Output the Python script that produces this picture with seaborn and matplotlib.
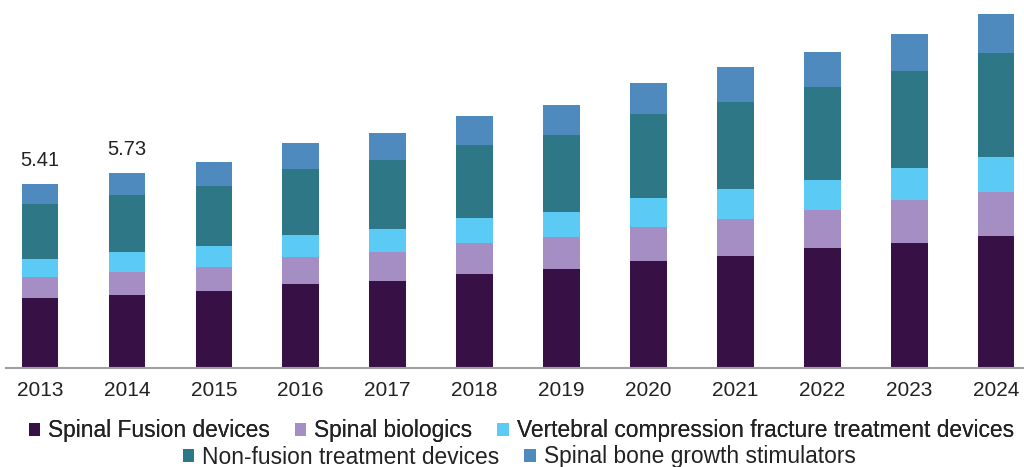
import numpy as np
import pandas as pd
import matplotlib
matplotlib.use("Agg")
import matplotlib.pyplot as plt
import seaborn as sns
from matplotlib.patches import Patch

years = ["2013", "2014", "2015", "2016", "2017", "2018", "2019", "2020", "2021", "2022", "2023", "2024"]
series_names = ["Spinal Fusion devices", "Spinal biologics",
                "Vertebral compression fracture treatment devices",
                "Non-fusion treatment devices", "Spinal bone growth stimulators"]
spinal_fusion = [2.04, 2.13, 2.26, 2.47, 2.56, 2.76, 2.91, 3.15, 3.29, 3.53, 3.68, 3.88]
spinal_biologics = [0.64, 0.70, 0.71, 0.79, 0.85, 0.91, 0.94, 1.00, 1.09, 1.12, 1.24, 1.29]
vertebral = [0.52, 0.56, 0.62, 0.65, 0.68, 0.74, 0.74, 0.85, 0.88, 0.88, 0.94, 1.03]
non_fusion = [1.60, 1.69, 1.76, 1.94, 2.00, 2.12, 2.24, 2.44, 2.53, 2.71, 2.85, 3.03]
bone_growth = [0.61, 0.65, 0.68, 0.74, 0.79, 0.85, 0.88, 0.91, 1.03, 1.03, 1.09, 1.15]
colors = ["#371046", "#a48ec4", "#5bcaf5", "#2e7787", "#4f8abf"]
labeled_years = ["2013", "2014"]

sns.set_theme(style="white")
plt.rcParams["font.family"] = ["Liberation Sans", "DejaVu Sans"]

data = np.array([spinal_fusion, spinal_biologics, vertebral, non_fusion, bone_growth])
cum = np.cumsum(data, axis=0)

fig = plt.figure(figsize=(10.24, 4.67), dpi=100)
ax = fig.add_axes([6 / 1024, 99 / 467, 1 - 6 / 1024, 363 / 467])

for i in reversed(range(len(series_names))):
    df = pd.DataFrame({"year": years, "value": cum[i]})
    sns.barplot(data=df, x="year", y="value", order=years, color=colors[i],
                width=0.42, linewidth=0, saturation=1, ax=ax, errorbar=None)

totals = cum[-1]
for j, y in enumerate(years):
    if y in labeled_years:
        ax.text(j, totals[j] + 0.4, f"{totals[j]:.2f}", ha="center", va="bottom",
                fontsize=14.5, color="#222222")

ax.set_ylim(0, 10.65)
ax.set_xlim(-0.39, 11.32)
ax.set_xlabel("")
ax.set_ylabel("")
ax.set_yticks([])
for s in ["top", "right", "left"]:
    ax.spines[s].set_visible(False)
ax.spines["bottom"].set_color("#a0a0a0")
ax.spines["bottom"].set_linewidth(1.5)
ax.tick_params(axis="x", length=0, pad=9, labelsize=15, labelcolor="#222222")

handles = [Patch(facecolor=c, edgecolor="none") for c in colors]
leg_kw = dict(loc="center", frameon=False, fontsize=16.4, handlelength=0.5, handleheight=0.5,
              handletextpad=0.35, columnspacing=1.1, borderpad=0, borderaxespad=0)
leg1 = fig.legend(handles[:3], series_names[:3], bbox_to_anchor=(0.509, 36 / 467), ncol=3, **leg_kw)
fig.add_artist(leg1)
leg2 = fig.legend(handles[3:], series_names[3:], bbox_to_anchor=(0.507, 10 / 467), ncol=2, **leg_kw)
for leg in (leg1, leg2):
    for t in leg.get_texts():
        t.set_color("#222222")

fig.savefig("out.png", dpi=100)
